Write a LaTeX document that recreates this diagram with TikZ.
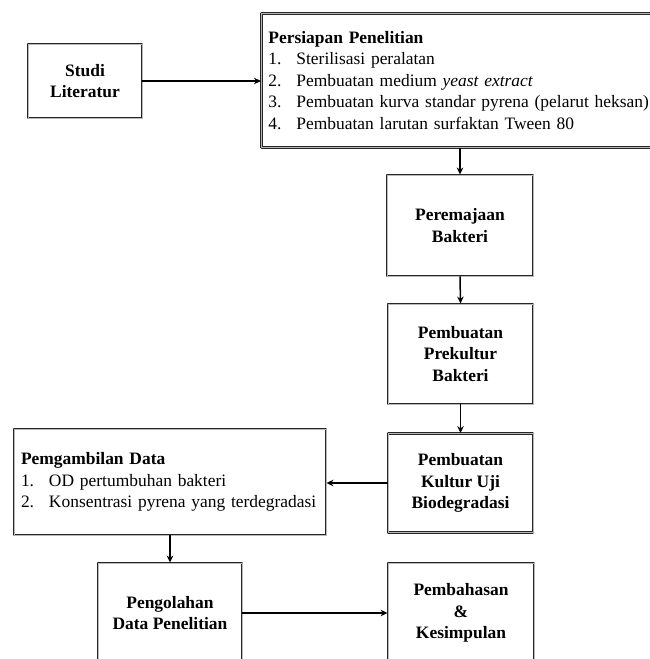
\documentclass[tikz,border=0pt]{standalone}
\usepackage{fontspec}
\setmainfont{Liberation Serif}
\usetikzlibrary{arrows.meta}
\tikzset{
  stepbox/.style={draw=black!85, double=gray!55, double distance=0.9bp, line width=0.9bp,
    align=center, font=\fontsize{17.5}{21.7}\selectfont\bfseries, inner sep=3bp},
  listbox/.style={draw=black!85, double=gray!55, double distance=0.9bp, line width=0.9bp,
    align=left, font=\fontsize{17.5}{21.7}\selectfont, inner sep=7bp},
  flow/.style={->, line width=1.5bp},
}
\newcommand{\itm}[2]{\makebox[28bp][l]{#1.}#2}
\begin{document}
\begin{tikzpicture}[>={Stealth[length=7bp,width=6.5bp]},line join=bevel]
  \useasboundingbox (0bp,0bp) rectangle (650bp,-659bp);
  \clip (0bp,0bp) rectangle (650bp,-659bp);
%%
  % Node: Studi
  \node[stepbox, minimum width=114bp, minimum height=74bp] (studi) at (85bp,-81bp) {Studi\\Literatur};
  % Node: Persiapan
  \node[listbox, anchor=north west, minimum width=400bp, minimum height=134bp, text width=386bp]
    (siap) at (261bp,-13bp) {\textbf{Persiapan Penelitian}\\
      \itm{1}{Sterilisasi peralatan}\\
      \itm{2}{Pembuatan medium \textit{yeast extract}}\\
      \itm{3}{Pembuatan kurva standar pyrena (pelarut heksan)}\\
      \itm{4}{Pembuatan larutan surfaktan Tween 80}};
  % Node: Peremajaan
  \node[stepbox, minimum width=146bp, minimum height=101bp] (remaja) at (460bp,-225.5bp) {Peremajaan\\Bakteri};
  % Node: Prekultur
  \node[stepbox, minimum width=145bp, minimum height=100bp] (prekultur) at (460.5bp,-354bp) {Pembuatan\\Prekultur\\Bakteri};
  % Node: Kultur
  \node[stepbox, minimum width=145bp, minimum height=99bp] (kultur) at (460.5bp,-483bp) {Pembuatan\\Kultur Uji\\Biodegradasi};
  % Node: Pengambilan
  \node[listbox, minimum width=312bp, minimum height=106bp, text width=298bp]
    (ambil) at (170bp,-482bp) {\textbf{Pemgambilan Data}\\
      \itm{1}{OD pertumbuhan bakteri}\\
      \itm{2}{Konsentrasi pyrena yang terdegradasi}};
  % Node: Pengolahan
  \node[stepbox, minimum width=144bp, minimum height=100bp] (olah) at (170bp,-613bp) {Pengolahan\\Data Penelitian};
  % Node: Pembahasan
  \node[stepbox, minimum width=146bp, minimum height=100bp] (bahas) at (461bp,-613bp) {Pembahasan\\\&\\Kesimpulan};
%
  % Edge: studi -> siap
  \draw[flow] (studi.east) -- (siap.west |- studi.east);
  % Edge: siap -> remaja
  \draw[flow] (siap.south -| remaja.north) -- (remaja.north);
  % Edge: remaja -> prekultur
  \draw[flow] (remaja.south) -- (prekultur.north);
  % Edge: prekultur -> kultur
  \draw[flow] (prekultur.south) -- (kultur.north);
  % Edge: kultur -> ambil
  \draw[flow] (kultur.west) -- (ambil.east |- kultur.west);
  % Edge: ambil -> olah
  \draw[flow] (ambil.south) -- (olah.north);
  % Edge: olah -> bahas
  \draw[flow] (olah.east) -- (bahas.west);
%
\end{tikzpicture}
\end{document}
